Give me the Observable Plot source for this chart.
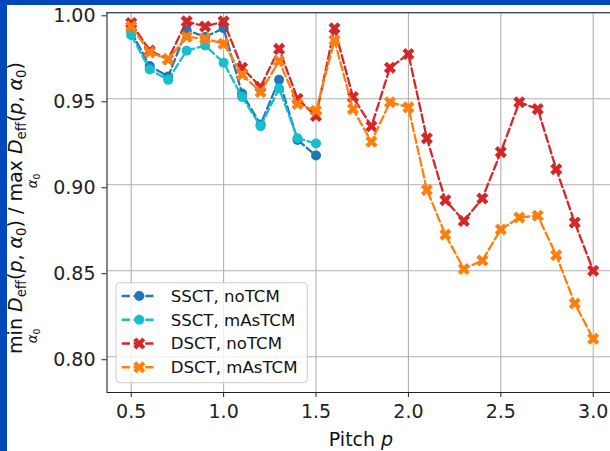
<!DOCTYPE html>
<html>
<head>
<meta charset="utf-8">
<script src="https://cdn.jsdelivr.net/npm/d3@7"></script>
<script src="https://cdn.jsdelivr.net/npm/@observablehq/plot@0.6"></script>
<style>
  html, body { margin: 0; padding: 0; background: white; }
  #wrap { position: relative; width: 610px; height: 451px; overflow: hidden; font-family: "DejaVu Sans", sans-serif; }
  #wrap svg { position: absolute; left: 0; top: 0; }
  .strip { position: absolute; background: #0047ba; }
  #ylab { position: absolute; left: 23px; top: 208px; white-space: nowrap; font-size: 19px; color: #111;
          transform: translate(-50%, -50%) rotate(-90deg); line-height: 1; }
  #ylab i { font-style: italic; }
  .op { display: inline-flex; flex-direction: column; align-items: center; vertical-align: baseline; }
  .lim { font-size: 0.7em; line-height: 1; margin-top: 1px; }
  .sb { font-size: 0.7em; position: relative; top: 0.28em; }
</style>
</head>
<body>
<div id="wrap"></div>
<script>
// ---- data ----
const pitchSS = [0.5, 0.6, 0.7, 0.8, 0.9, 1.0, 1.1, 1.2, 1.3, 1.4, 1.5];
const pitchDS = [0.5, 0.6, 0.7, 0.8, 0.9, 1.0, 1.1, 1.2, 1.3, 1.4, 1.5, 1.6, 1.7, 1.8, 1.9, 2.0, 2.1, 2.2, 2.3, 2.4, 2.5, 2.6, 2.7, 2.8, 2.9, 3.0];
const ssctNoTCM  = [0.989, 0.969, 0.963, 0.990, 0.986, 0.991, 0.953, 0.935, 0.961, 0.926, 0.917];
const ssctMAsTCM = [0.987, 0.967, 0.961, 0.978, 0.981, 0.971, 0.951, 0.934, 0.956, 0.927, 0.924];
const dsctNoTCM  = [0.994, 0.978, 0.973, 0.995, 0.992, 0.995, 0.968, 0.957, 0.979, 0.950, 0.940, 0.991, 0.951, 0.934, 0.968, 0.976, 0.927, 0.891, 0.879, 0.892, 0.919, 0.948, 0.944, 0.909, 0.878, 0.850];
const dsctMAsTCM = [0.992, 0.977, 0.973, 0.986, 0.985, 0.982, 0.964, 0.954, 0.972, 0.947, 0.943, 0.984, 0.944, 0.925, 0.948, 0.945, 0.897, 0.871, 0.851, 0.856, 0.874, 0.881, 0.882, 0.859, 0.831, 0.8105];
const seriesNames = ["SSCT, noTCM", "SSCT, mAsTCM", "DSCT, noTCM", "DSCT, mAsTCM"];
const seriesColors = ["#1f77b4", "#17becf", "#d62728", "#ff7f0e"];
const seriesMarkers = ["circle", "circle", "x", "x"];
const xTicks = [0.5, 1.0, 1.5, 2.0, 2.5, 3.0];
const yTicks = [0.80, 0.85, 0.90, 0.95, 1.00];
const xDomain = [0.369, 3.0935];
const yDomain = [0.7792, 1.0];

const seriesData = [
  pitchSS.map((p, i) => ({pitch: p, value: ssctNoTCM[i]})),
  pitchSS.map((p, i) => ({pitch: p, value: ssctMAsTCM[i]})),
  pitchDS.map((p, i) => ({pitch: p, value: dsctNoTCM[i]})),
  pitchDS.map((p, i) => ({pitch: p, value: dsctMAsTCM[i]}))
];

// filled "X" marker (rotated plus)
const L = 6.4, W = 2.15;
const plusPts = [[L, W], [L, -W], [W, -W], [W, -L], [-W, -L], [-W, -W], [-L, -W], [-L, W], [-W, W], [-W, L], [W, L], [W, W]];
const xPts = plusPts.map(([x, y]) => [(x - y) / Math.SQRT2, (x + y) / Math.SQRT2]);
const xSymbol = { draw(ctx) { xPts.forEach(([x, y], i) => i ? ctx.lineTo(x, y) : ctx.moveTo(x, y)); ctx.closePath(); } };
const circSymbol = { draw(ctx) { ctx.moveTo(5, 0); ctx.arc(0, 0, 5, 0, 2 * Math.PI); ctx.closePath(); } };

const dash = "8.2,3.6";
const seriesMarks = [];
seriesData.forEach((d, k) => {
  seriesMarks.push(Plot.line(d, {x: "pitch", y: "value", stroke: seriesColors[k], strokeWidth: 2.3, strokeDasharray: dash}));
  seriesMarks.push(Plot.dot(d, {x: "pitch", y: "value", fill: seriesColors[k], stroke: "none",
    symbol: seriesMarkers[k] === "circle" ? circSymbol : xSymbol}));
});

const plot = Plot.plot({
  width: 610, height: 451,
  marginLeft: 106.5, marginRight: 0, marginTop: 12.3, marginBottom: 59,
  x: {domain: xDomain},
  y: {domain: yDomain},
  style: {fontFamily: "DejaVu Sans", background: "white", color: "#222", overflow: "visible"},
  marks: [
    Plot.gridX(xTicks, {stroke: "#b0b0b0", strokeOpacity: 1, strokeWidth: 1.1}),
    Plot.gridY(yTicks, {stroke: "#b0b0b0", strokeOpacity: 1, strokeWidth: 1.1}),
    ...seriesMarks,
    Plot.ruleY([yDomain[0], yDomain[1]], {stroke: "#222", strokeWidth: 1.1}),
    Plot.ruleX([xDomain[0]], {stroke: "#222", strokeWidth: 1.1}),
    Plot.axisX(xTicks, {tickFormat: d3.format(".1f"), tickSize: 5, tickPadding: 7, fontSize: 19, label: null, stroke: "#222"}),
    Plot.axisY(yTicks, {tickFormat: d3.format(".2f"), tickSize: 5, tickPadding: 6.5, fontSize: 19, dy: 3, label: null, stroke: "#222"})
  ]
});

const wrap = document.getElementById("wrap");
wrap.appendChild(plot);

const svg = d3.select(plot);
// x label
const xl = svg.append("text").attr("x", 361).attr("y", 446).attr("text-anchor", "middle")
  .attr("font-size", 19).attr("fill", "#111").attr("font-family", "DejaVu Sans");
xl.append("tspan").text("Pitch ");
xl.append("tspan").attr("font-style", "italic").text("p");

// legend
const lg = svg.append("g").attr("text-anchor", "start");
lg.append("rect").attr("x", 116).attr("y", 282.7).attr("width", 191.3).attr("height", 100)
  .attr("rx", 4).attr("fill", "white").attr("fill-opacity", 0.8).attr("stroke", "#cccccc").attr("stroke-width", 1);
seriesNames.forEach((name, k) => {
  const cy = 296 + k * 23.75;
  lg.append("line").attr("x1", 121.7).attr("x2", 156.7).attr("y1", cy).attr("y2", cy)
    .attr("stroke", seriesColors[k]).attr("stroke-width", 2.3).attr("stroke-dasharray", dash);
  const p = d3.path();
  (seriesMarkers[k] === "circle" ? circSymbol : xSymbol).draw(p);
  lg.append("path").attr("d", p.toString()).attr("transform", `translate(139.3,${cy})`).attr("fill", seriesColors[k]);
  lg.append("text").attr("x", 170.7).attr("y", cy).attr("dy", "0.36em").attr("font-size", 16.6)
    .attr("text-anchor", "start").attr("fill", "#111").attr("font-family", "DejaVu Sans").text(name);
});

// y label (math)
const yl = document.createElement("div");
yl.id = "ylab";
const frac = '<i>D</i><span class="sb">eff</span>(<i>p</i>, <i>α</i><span class="sb">0</span>)';
yl.innerHTML = '<span class="op"><span>min</span><span class="lim"><i>α</i><span class="sb">0</span></span></span> ' + frac +
  ' / <span class="op"><span>max</span><span class="lim"><i>α</i><span class="sb">0</span></span></span> ' + frac;
wrap.appendChild(yl);

// blue frame strips
const s1 = document.createElement("div"); s1.className = "strip";
s1.style.cssText = "left:0;top:0;width:7.3px;height:451px;";
const s2 = document.createElement("div"); s2.className = "strip";
s2.style.cssText = "left:0;top:0;width:610px;height:4.7px;";
wrap.appendChild(s1); wrap.appendChild(s2);
</script>
</body>
</html>
